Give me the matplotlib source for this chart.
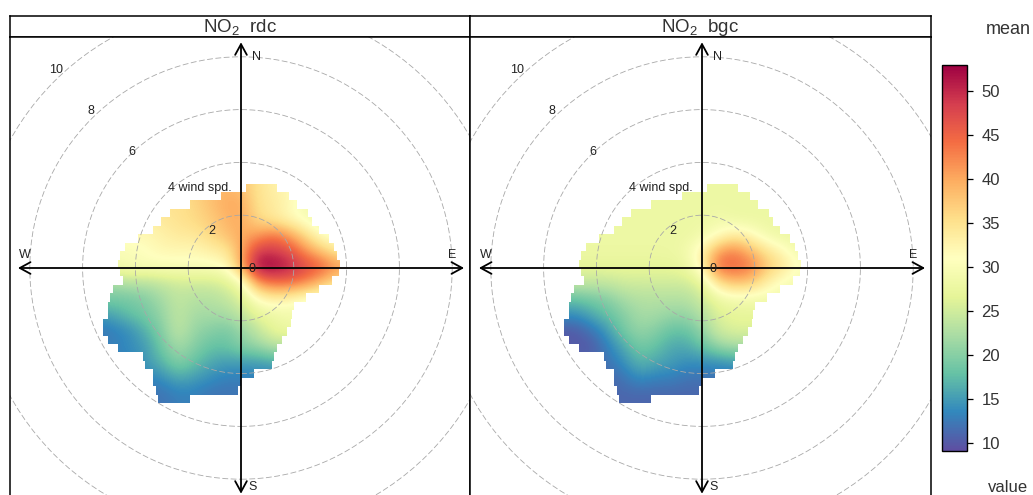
import numpy as np
import matplotlib
matplotlib.use('Agg')
import matplotlib.pyplot as plt
from matplotlib.cm import ScalarMappable
from matplotlib.colors import Normalize
from matplotlib.patches import Circle, PathPatch
from matplotlib.path import Path

plt.rcParams['font.family'] = ['Liberation Sans', 'DejaVu Sans']
plt.rcParams['mathtext.default'] = 'regular'
plt.rcParams['axes.linewidth'] = 1.1

panel_titles = ['NO$_2$  rdc', 'NO$_2$  bgc']
colour_ticks = [10, 15, 20, 25, 30, 35, 40, 45, 50]
colour_min = 9.1
colour_max = 53
ring_speeds = [2, 4, 6, 8, 10]

# mean value, wind component grid (east, north), step 0.6
east_nodes = [-5.4, -4.8, -4.2, -3.6, -3.0, -2.4, -1.8, -1.2, -0.6, 0.0, 0.6, 1.2, 1.8, 2.4, 3.0, 3.6]
north_nodes = [3.6, 3.0, 2.4, 1.8, 1.2, 0.6, 0.0, -0.6, -1.2, -1.8, -2.4, -3.0, -3.6, -4.2, -4.8, -5.4]

rdc_values = [
    [33, 33, 33, 34, 35, 36, 37, 38, 39, 38, 35, 33, 32, 30, 30, 29],
    [33, 33, 33, 34, 35, 36, 37, 38, 39, 38, 35, 33, 32, 30, 30, 29],
    [33, 33, 34, 34, 35, 35, 36, 38, 40, 40, 35, 34, 32, 29, 29, 28],
    [32, 32, 33, 33, 34, 35, 36, 37, 39, 40, 36, 34, 32, 30, 28, 28],
    [31, 31, 32, 32, 33, 34, 34, 36, 38, 40, 41, 44, 41, 36, 31, 30],
    [30, 30, 30, 31, 32, 32, 32, 33, 34, 40, 49, 49, 47, 42, 38, 34],
    [29, 29, 30, 30, 30, 30, 30, 30, 31, 40, 53, 53, 51, 48, 46, 42],
    [22, 22, 23, 23, 24, 25, 25, 25, 26, 29, 41, 44, 44, 42, 38, 34],
    [19, 19, 19, 20, 22, 24, 23, 23, 24, 26, 31, 33, 32, 30, 30, 30],
    [15, 16, 18, 19, 21, 24, 22, 22, 22, 24, 27, 28, 29, 29, 29, 29],
    [12, 13, 14, 17, 20, 24, 21, 20, 19, 21, 24, 27, 28, 28, 28, 28],
    [13, 13, 14, 15, 19, 22, 20, 18, 18, 20, 21, 23, 23, 23, 23, 23],
    [13, 13, 13, 15, 17, 20, 18, 16, 15, 15, 15, 16, 16, 16, 16, 16],
    [13, 13, 13, 13, 14, 16, 15, 14, 13, 13, 13, 13, 13, 13, 13, 13],
    [12, 12, 12, 12, 12, 13, 13, 12, 12, 12, 12, 12, 12, 12, 12, 12],
    [12, 12, 12, 12, 12, 13, 13, 12, 12, 12, 12, 12, 12, 12, 12, 12],
]
bgc_values = [
    [28, 28, 28, 28, 28, 28, 28, 28, 28, 28, 28, 28, 28, 28, 28, 28],
    [28, 28, 28, 28, 28, 28, 28, 28, 28, 28, 28, 28, 28, 28, 28, 28],
    [28, 28, 28, 28, 28, 28, 28, 28, 28, 28, 28, 28, 28, 28, 28, 28],
    [28, 28, 28, 28, 28, 28, 28, 28, 28, 28, 29, 28, 28, 28, 28, 28],
    [28, 28, 28, 28, 28, 28, 28, 28, 28, 29, 31, 34, 32, 29, 28, 28],
    [28, 28, 28, 28, 28, 28, 28, 28, 29, 33, 41, 43, 39, 35, 32, 29],
    [27, 27, 27, 27, 27, 27, 27, 27, 28, 33, 45, 45, 44, 38, 35, 31],
    [24, 24, 24, 24, 25, 25, 25, 25, 25, 27, 35, 38, 37, 33, 30, 29],
    [18, 18, 19, 20, 22, 23, 23, 23, 23, 25, 28, 29, 29, 29, 29, 29],
    [14, 14, 16, 18, 20, 22, 22, 21, 21, 23, 26, 27, 27, 27, 27, 27],
    [10, 10, 12, 15, 19, 21, 20, 18, 18, 21, 25, 26, 26, 26, 26, 26],
    [10, 10, 10, 13, 16, 19, 18, 16, 16, 18, 21, 22, 22, 22, 22, 22],
    [11, 11, 11, 12, 14, 17, 16, 15, 14, 14, 14, 15, 15, 15, 15, 15],
    [11, 11, 11, 11, 12, 14, 13, 13, 12, 12, 12, 12, 12, 12, 12, 12],
    [11, 11, 11, 11, 11, 11, 11, 11, 11, 11, 11, 11, 11, 11, 11, 11],
    [11, 11, 11, 11, 11, 11, 11, 11, 11, 11, 11, 11, 11, 11, 11, 11],
]

# outline of the covered area, one west/east pair per row of height 0.32
outline_top = 3.2
outline_west = [0.19, -0.75, -1.95, -2.7, -3.02, -3.33, -3.9, -4.4, -4.59, -4.65, -4.59, -4.47, -4.84,
                -4.97, -5.03, -5.03, -5.22, -5.22, -5.03, -4.65, -3.71, -3.65, -3.33, -3.33, -3.21, -3.14]
outline_east = [1.38, 1.82, 2.14, 2.52, 2.7, 2.96, 3.33, 3.52, 3.65, 3.74, 3.71, 3.46, 2.96,
                2.45, 2.01, 1.95, 1.89, 1.76, 1.57, 1.38, 1.26, 1.19, 0.5, 0.0, -0.13, -1.95]

W, H = 1033, 495
PX = 26.4  # pixels per wind speed unit


def px_axes(left, top, right, bottom):
    return fig.add_axes([left / W, 1 - bottom / H, (right - left) / W, (bottom - top) / H])


def outline_path():
    # stepped polygon: down the east side then back up the west side
    verts = []
    for i, e in enumerate(outline_east):
        verts += [(e, outline_top - 0.32 * i), (e, outline_top - 0.32 * (i + 1))]
    for i in range(len(outline_west) - 1, -1, -1):
        w = outline_west[i]
        verts += [(w, outline_top - 0.32 * (i + 1)), (w, outline_top - 0.32 * i)]
    verts.append(verts[0])
    return Path(verts, closed=True)


fig = plt.figure(figsize=(W / 100, H / 100), dpi=100, facecolor='white')
norm = Normalize(colour_min, colour_max)
half = 0.3

for title, values, left, right, centre in zip(panel_titles, [rdc_values, bgc_values],
                                              [10, 470], [470, 931], [241, 702]):
    head = px_axes(left, 16, right, 37)
    head.set_xticks([])
    head.set_yticks([])
    head.text(0.5, 0.47, title, transform=head.transAxes, ha='center', va='center',
              fontsize=13.5, color='#333333')

    ax = px_axes(left, 37, right, 510)
    ax.set_xticks([])
    ax.set_yticks([])

    im = ax.imshow(np.array(values, dtype=float), cmap='Spectral_r', norm=norm, aspect='auto',
                   extent=[east_nodes[0] - half, east_nodes[-1] + half,
                           north_nodes[-1] - half, north_nodes[0] + half],
                   interpolation='bicubic', interpolation_stage='data', zorder=1)
    ax.set_xlim((left - centre) / PX, (right - centre) / PX)
    ax.set_ylim((268 - 510) / PX, (268 - 37) / PX)
    im.set_clip_path(PathPatch(outline_path(), transform=ax.transData))

    for r in ring_speeds:
        ax.add_patch(Circle((0, 0), r, fill=False, ec='#a8a8a8', lw=0.6,
                            ls=(0, (7, 3)), zorder=2))

    ax.annotate('', xy=(8.45, 0), xytext=(-8.45, 0), zorder=3,
                arrowprops=dict(arrowstyle='<->,head_length=0.55,head_width=0.3', color='black',
                                lw=1.3, mutation_scale=14, shrinkA=0, shrinkB=0))
    ax.annotate('', xy=(0, 8.55), xytext=(0, -8.55), zorder=3,
                arrowprops=dict(arrowstyle='<->,head_length=0.55,head_width=0.3', color='black',
                                lw=1.3, mutation_scale=14, shrinkA=0, shrinkB=0))

    for label, x, y in [('N', 0.57, 8.0), ('S', 0.45, -8.3), ('W', -8.2, 0.5), ('E', 8.0, 0.5),
                        ('10', -7.0, 7.5), ('8', -5.68, 5.95), ('6', -4.13, 4.39),
                        ('4 wind spd.', -1.55, 3.03), ('2', -1.1, 1.4), ('0', 0.42, -0.04)]:
        ax.text(x, y, label, ha='center', va='center', fontsize=9, color='#222222', zorder=4)

cax = px_axes(942, 65, 967, 451)
bar = fig.colorbar(ScalarMappable(norm=norm, cmap='Spectral_r'), cax=cax, ticks=colour_ticks)
bar.ax.tick_params(length=4.5, width=0.9, labelsize=12, labelcolor='#333333', pad=6)
bar.outline.set_linewidth(1.0)

fig.text(1008 / W, 1 - 29 / H, 'mean', ha='center', va='center', fontsize=13, color='#333333')
fig.text(1008 / W, 1 - 488 / H, 'value', ha='center', va='center', fontsize=12, color='#333333')

fig.savefig('out.png', dpi=100)
